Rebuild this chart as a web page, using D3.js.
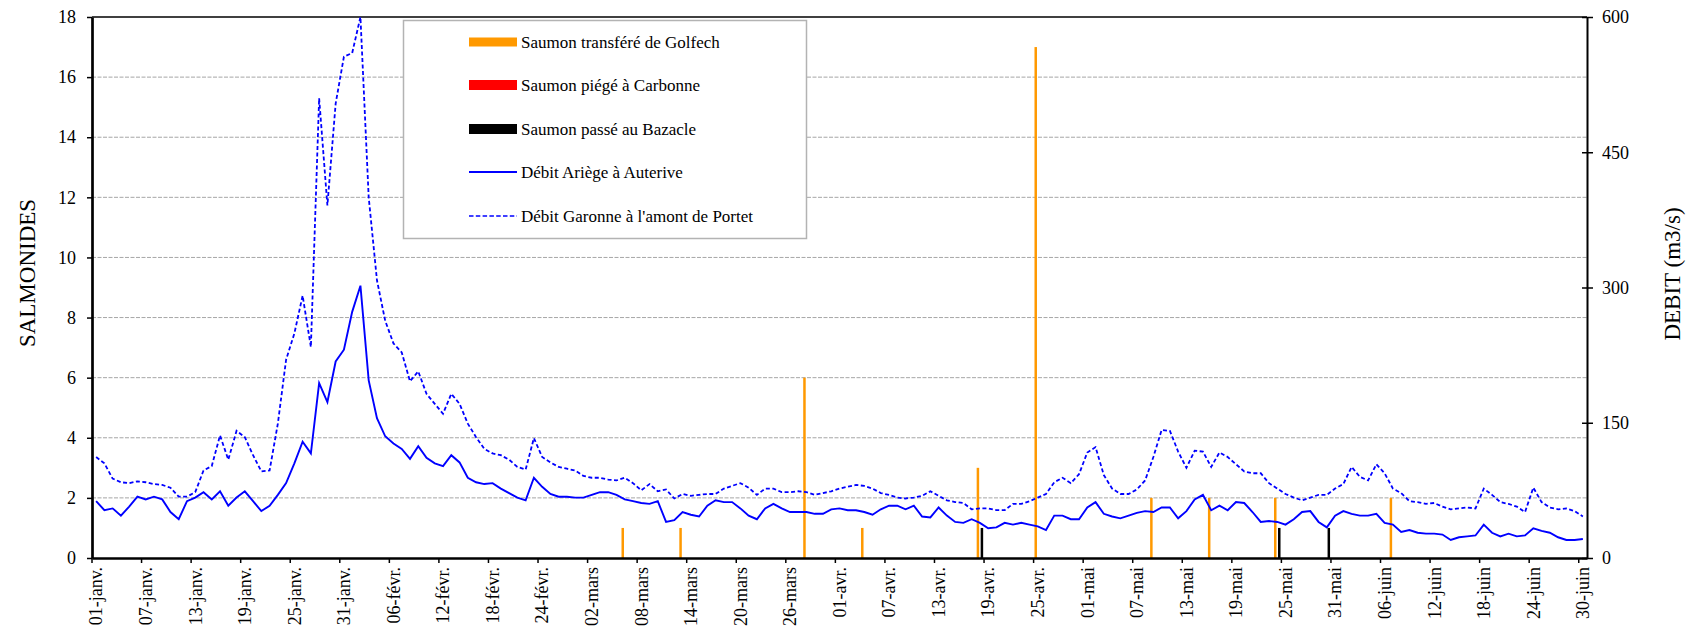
<!DOCTYPE html>
<html>
<head>
<meta charset="utf-8">
<script src="https://cdn.jsdelivr.net/npm/d3@7"></script>
<style>
  body { margin: 0; background: #fff; }
  svg text { font-family: "Liberation Serif", "Times New Roman", "DejaVu Serif", serif !important; fill: #000; }
</style>
</head>
<body>
<script>

// months of the season, used to build the daily categories
const months = ["janv.", "févr.", "mars", "avr.", "mai", "juin"];
const monthLengths = [31, 28, 31, 30, 31, 30];

// labels shown under the x axis (every 6 days)
const tickLabels = ["01-janv.", "07-janv.", "13-janv.", "19-janv.", "25-janv.", "31-janv.",
  "06-févr.", "12-févr.", "18-févr.", "24-févr.", "02-mars", "08-mars", "14-mars",
  "20-mars", "26-mars", "01-avr.", "07-avr.", "13-avr.", "19-avr.", "25-avr.",
  "01-mai", "07-mai", "13-mai", "19-mai", "25-mai", "31-mai", "06-juin", "12-juin",
  "18-juin", "24-juin", "30-juin"];

// daily flow, Ariège at Auterive (m3/s)
const ariege = [63, 53, 55, 47, 57, 68, 65, 68, 65, 51,
  43, 63, 67, 73, 65, 74, 58, 67, 74, 63,
  52, 58, 70, 83, 105, 129, 116, 194, 173, 218,
  231, 273, 302, 197, 155, 135, 127, 121, 110, 124,
  111, 105, 102, 114, 106, 89, 84, 82, 83, 77,
  72, 67, 64, 89, 79, 71, 68, 68, 67, 67,
  70, 73, 73, 70, 65, 63, 61, 60, 63, 40,
  42, 51, 48, 46, 58, 64, 62, 62, 55, 47,
  43, 55, 60, 55, 51, 51, 51, 49, 49, 54,
  55, 53, 53, 51, 48, 54, 58, 58, 54, 58,
  46, 45, 56, 47, 40, 39, 43, 39, 33, 34,
  39, 37, 39, 37, 35, 31, 47, 47, 43, 43,
  56, 62, 49, 46, 44, 47, 50, 52, 51, 56,
  56, 44, 52, 65, 70, 53, 58, 53, 62, 61,
  51, 40, 41, 40, 37, 43, 51, 52, 40, 34,
  47, 52, 49, 47, 47, 49, 39, 37, 29, 31,
  28, 27, 27, 26, 20, 23, 24, 25, 37, 28,
  24, 27, 24, 25, 33, 30, 28, 23, 20, 20,
  21];

// daily flow, Garonne upstream of Portet (m3/s)
const garonne = [112, 105, 88, 84, 83, 85, 84, 82, 81, 78,
  68, 68, 73, 97, 102, 136, 109, 141, 134, 114,
  96, 97, 149, 220, 249, 291, 234, 510, 391, 504,
  556, 560, 600, 400, 308, 263, 238, 228, 196, 207,
  182, 171, 160, 182, 171, 149, 134, 121, 116, 114,
  109, 101, 98, 133, 112, 106, 101, 99, 97, 91,
  89, 89, 87, 86, 89, 83, 75, 82, 74, 76,
  66, 71, 69, 70, 71, 71, 77, 80, 83, 78,
  70, 77, 77, 73, 73, 74, 73, 70, 72, 74,
  77, 79, 81, 80, 77, 72, 70, 67, 66, 67,
  69, 74, 69, 64, 62, 61, 54, 55, 55, 53,
  53, 60, 60, 63, 67, 71, 84, 89, 83, 93,
  117, 123, 92, 77, 71, 71, 76, 86, 112, 142,
  141, 118, 100, 119, 118, 101, 117, 112, 104, 96,
  94, 94, 83, 77, 71, 67, 64, 67, 70, 70,
  77, 82, 101, 90, 86, 104, 94, 77, 72, 63,
  62, 60, 61, 57, 54, 55, 56, 55, 77, 70,
  62, 60, 57, 51, 78, 62, 56, 54, 55, 52,
  46];

// salmon counts per day
const golfech = [["06-mars", 1], ["13-mars", 1], ["28-mars", 6], ["04-avr.", 1],
  ["18-avr.", 3], ["25-avr.", 17], ["09-mai", 2], ["16-mai", 2], ["24-mai", 2], ["07-juin", 2]];
const carbonne = [];
const bazacle = [["18-avr.", 1], ["24-mai", 1], ["30-mai", 1]];

const seriesNames = ["Saumon transféré de Golfech", "Saumon piégé à Carbonne",
  "Saumon passé au Bazacle", "Débit Ariège à Auterive", "Débit Garonne à l'amont de Portet"];

// build daily categories
const days = [];
months.forEach(function (m, i) {
  for (let d = 1; d <= monthLengths[i]; d++) {
    days.push((d < 10 ? "0" : "") + d + "-" + m);
  }
});

const serif = "Liberation Serif, Times New Roman, DejaVu Serif, serif";
const width = 1693;
const height = 634;
const plot = {left: 92, right: 1587, top: 17, bottom: 558};

const svg = d3.select("body").append("svg")
  .attr("width", width)
  .attr("height", height)
  .attr("font-family", serif);

svg.append("rect")
  .attr("width", width)
  .attr("height", height)
  .attr("fill", "#fff");

// scales
const x = d3.scaleBand()
  .domain(days)
  .range([plot.left, plot.right]);
const bw = x.bandwidth();

const yLeft = d3.scaleLinear()
  .domain([0, 18])
  .range([plot.bottom, plot.top]);

const yRight = d3.scaleLinear()
  .domain([0, 600])
  .range([plot.bottom, plot.top]);

// three bar slots per day, clustered round the day centre
const slot = d3.scaleBand()
  .domain(["golfech", "carbonne", "bazacle"])
  .range([-3, 3]);
const barW = 2.5;

// gridlines
svg.append("g")
  .selectAll("line")
  .data(d3.range(2, 18, 2))
  .enter()
  .append("line")
  .attr("x1", plot.left)
  .attr("x2", plot.right)
  .attr("y1", d => yLeft(d))
  .attr("y2", d => yLeft(d))
  .attr("stroke", "#a6a6a6")
  .attr("stroke-width", 1)
  .attr("stroke-dasharray", "4,1.5");

// top border
svg.append("line")
  .attr("x1", plot.left)
  .attr("x2", plot.right)
  .attr("y1", yLeft(18))
  .attr("y2", yLeft(18))
  .attr("stroke", "#000")
  .attr("stroke-width", 1.5);

// bars
const barSeries = [
  {key: "golfech", data: golfech, color: "#ff9900"},
  {key: "carbonne", data: carbonne, color: "#ff0000"},
  {key: "bazacle", data: bazacle, color: "#000000"}
];

barSeries.forEach(function (s) {
  svg.append("g")
    .selectAll("rect")
    .data(s.data)
    .enter()
    .append("rect")
    .attr("x", d => x(d[0]) + bw / 2 + slot(s.key) + slot.bandwidth() / 2 - barW / 2)
    .attr("width", barW)
    .attr("y", d => yLeft(d[1]))
    .attr("height", d => yLeft(0) - yLeft(d[1]))
    .attr("fill", s.color);
});

// flow lines, clipped to the plot
svg.append("clipPath")
  .attr("id", "clip")
  .append("rect")
  .attr("x", plot.left)
  .attr("y", plot.top)
  .attr("width", plot.right - plot.left)
  .attr("height", plot.bottom - plot.top);

const line = d3.line()
  .x((d, i) => x(days[i]) + bw / 2)
  .y(d => yRight(d));

svg.append("path")
  .datum(garonne)
  .attr("clip-path", "url(#clip)")
  .attr("d", line)
  .attr("fill", "none")
  .attr("stroke", "#0000ff")
  .attr("stroke-width", 1.8)
  .attr("stroke-dasharray", "4,2.5");

svg.append("path")
  .datum(ariege)
  .attr("clip-path", "url(#clip)")
  .attr("d", line)
  .attr("fill", "none")
  .attr("stroke", "#0000ff")
  .attr("stroke-width", 1.9);

// axes
const xAxis = svg.append("g")
  .attr("transform", "translate(0," + plot.bottom + ")")
  .call(d3.axisBottom(x)
    .tickValues(days.filter(d => tickLabels.includes(d)))
    .tickSize(5)
    .tickSizeOuter(0));
xAxis.selectAll(".tick line")
  .attr("x1", -bw / 2)
  .attr("x2", -bw / 2)
  .attr("stroke-width", 1.5);
xAxis.selectAll(".tick text")
  .attr("transform", "rotate(-90)")
  .attr("x", -9)
  .attr("y", 0)
  .attr("dy", "0.35em")
  .style("text-anchor", "end")
  .style("font-size", "18px")
  .style("font-family", serif);
xAxis.select(".domain").attr("stroke-width", 2.7);

const leftAxis = svg.append("g")
  .attr("transform", "translate(" + plot.left + ",0)")
  .call(d3.axisLeft(yLeft)
    .tickValues(d3.range(0, 20, 2))
    .tickSize(5)
    .tickSizeOuter(0)
    .tickPadding(11));
leftAxis.selectAll("text")
  .style("font-size", "18px")
  .style("font-family", serif);
leftAxis.selectAll(".tick line").attr("stroke-width", 1.5);
leftAxis.select(".domain").attr("stroke-width", 2.7);

const rightAxis = svg.append("g")
  .attr("transform", "translate(" + plot.right + ",0)")
  .call(d3.axisRight(yRight)
    .tickValues([0, 150, 300, 450, 600])
    .tickSize(6)
    .tickSizeOuter(0)
    .tickPadding(9));
rightAxis.selectAll(".tick line")
  .attr("x1", -5)
  .attr("stroke-width", 1.5);
rightAxis.selectAll("text")
  .style("font-size", "18px")
  .style("font-family", serif);
rightAxis.select(".domain").attr("stroke-width", 2);

// axis titles
svg.append("text")
  .attr("transform", "translate(27,273) rotate(-90)")
  .attr("dy", "0.35em")
  .style("text-anchor", "middle")
  .style("font-size", "23px")
  .style("font-family", serif)
  .text("SALMONIDES");

svg.append("text")
  .attr("transform", "translate(1672,274) rotate(-90)")
  .attr("dy", "0.35em")
  .style("text-anchor", "middle")
  .style("font-size", "23px")
  .style("font-family", serif)
  .text("DEBIT (m3/s)");

// legend
const legend = svg.append("g");
legend.append("rect")
  .attr("x", 403.5)
  .attr("y", 20.5)
  .attr("width", 403)
  .attr("height", 218)
  .attr("fill", "#fff")
  .attr("stroke", "#b3b3b3")
  .attr("stroke-width", 1.5);

const rowY = [42, 85, 129, 172, 216];
const swatchX = 469;
const swatchW = 48;

legend.append("rect").attr("x", swatchX).attr("y", rowY[0] - 4.5)
  .attr("width", swatchW).attr("height", 9).attr("fill", "#ff9900");
legend.append("rect").attr("x", swatchX).attr("y", rowY[1] - 5)
  .attr("width", swatchW).attr("height", 10).attr("fill", "#ff0000");
legend.append("rect").attr("x", swatchX).attr("y", rowY[2] - 5)
  .attr("width", swatchW).attr("height", 10).attr("fill", "#000000");
legend.append("line").attr("x1", swatchX).attr("x2", swatchX + swatchW)
  .attr("y1", rowY[3]).attr("y2", rowY[3])
  .attr("stroke", "#0000ff").attr("stroke-width", 2);
legend.append("line").attr("x1", swatchX).attr("x2", swatchX + swatchW)
  .attr("y1", rowY[4]).attr("y2", rowY[4])
  .attr("stroke", "#0000ff").attr("stroke-width", 1.3)
  .attr("stroke-dasharray", "4.5,2.3");

legend.selectAll(".legendText")
  .data(seriesNames)
  .enter()
  .append("text")
  .attr("class", "legendText")
  .attr("x", swatchX + swatchW + 4)
  .attr("y", (d, i) => rowY[i])
  .attr("dy", "0.35em")
  .style("font-size", "17px")
  .style("font-family", serif)
  .text(d => d);

</script>
</body>
</html>
